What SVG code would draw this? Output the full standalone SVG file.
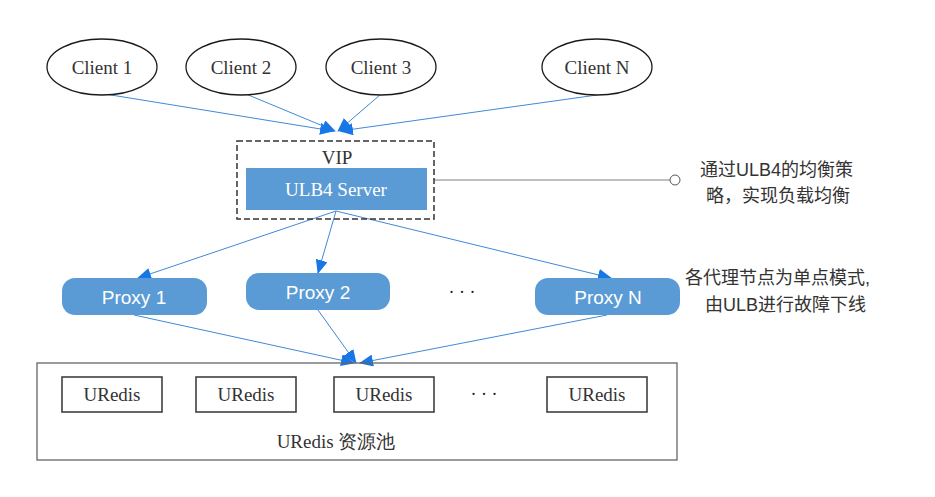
<svg xmlns="http://www.w3.org/2000/svg" width="935" height="497" viewBox="0 0 935 497">
<defs>
<style>
.client{fill:#fff;stroke:#1a1a1a;stroke-width:1.3}
.serif{font-family:"Liberation Serif","Times New Roman",serif;font-size:19px;fill:#333;text-anchor:middle}
.sans{font-family:"Liberation Sans",Arial,sans-serif;font-size:19px;fill:#fff;text-anchor:middle}
.cjk{font-family:"Liberation Sans","Noto Sans CJK SC",sans-serif;font-size:18px;fill:#333}
.proxy{fill:#5b9bd5}
.conn{stroke:#3f8ad8;stroke-width:1;fill:none;marker-end:url(#ah)}
.ured{fill:#fff;stroke:#404040;stroke-width:1.6}
</style>
<marker id="ah" markerUnits="userSpaceOnUse" markerWidth="14" markerHeight="12" refX="13" refY="6" orient="auto">
<path d="M0,0 L14,6 L0,12 Z" fill="#1877e6"/>
</marker>
</defs>
<rect width="935" height="497" fill="#fff"/>

<g id="connectors">
<line class="conn" x1="105" y1="94" x2="333" y2="131"/>
<line class="conn" x1="246" y1="94" x2="335" y2="131"/>
<line class="conn" x1="380" y1="95" x2="338" y2="131"/>
<line class="conn" x1="597" y1="95" x2="340" y2="131"/>
<line class="conn" x1="336" y1="211" x2="138" y2="278"/>
<line class="conn" x1="336" y1="211" x2="318" y2="273"/>
<line class="conn" x1="336" y1="211" x2="611" y2="278"/>
<line class="conn" x1="134" y1="315" x2="354" y2="363"/>
<line class="conn" x1="318" y1="310" x2="356" y2="363"/>
<line class="conn" x1="607" y1="315" x2="360" y2="363"/>
<line x1="434" y1="180" x2="670" y2="180" stroke="#808080" stroke-width="1.2"/>
<circle cx="675" cy="180" r="5" fill="#fff" stroke="#555" stroke-width="1"/>
</g>

<g id="client1"><ellipse class="client" cx="102" cy="67" rx="55" ry="28"/><text class="serif" x="102" y="74">Client 1</text></g>
<g id="client2"><ellipse class="client" cx="241" cy="67" rx="55" ry="28"/><text class="serif" x="241" y="74">Client 2</text></g>
<g id="client3"><ellipse class="client" cx="381" cy="67" rx="55" ry="28"/><text class="serif" x="381" y="74">Client 3</text></g>
<g id="clientN"><ellipse class="client" cx="597" cy="67" rx="55" ry="28"/><text class="serif" x="597" y="74">Client N</text></g>

<g id="vip">
<rect x="237" y="141" width="197" height="78" fill="none" stroke="#333" stroke-width="1.5" stroke-dasharray="6,3"/>
<text class="serif" x="337" y="164">VIP</text>
<rect x="246" y="168" width="181" height="42" fill="#5b9bd5"/>
<text class="serif" x="336" y="196" style="fill:#fff">ULB4 Server</text>
</g>

<g id="note1">
<text class="cjk" x="700" y="176">通过ULB4的均衡策</text>
<text class="cjk" x="706" y="202">略，实现负载均衡</text>
</g>

<g id="proxy1"><rect class="proxy" x="62" y="278" width="145" height="37" rx="13"/><text class="sans" x="134" y="304">Proxy 1</text></g>
<g id="proxy2"><rect class="proxy" x="246" y="273" width="144" height="37" rx="13"/><text class="sans" x="318" y="299">Proxy 2</text></g>
<g id="dots1"><text class="serif" x="462" y="298" style="fill:#222;font-size:18px">· · ·</text></g>
<g id="proxyN"><rect class="proxy" x="535" y="278" width="145" height="37" rx="13"/><text class="sans" x="608" y="304">Proxy N</text></g>

<g id="note2">
<text class="cjk" x="685" y="284">各代理节点为单点模式,</text>
<text class="cjk" x="705" y="311">由ULB进行故障下线</text>
</g>

<g id="pool">
<rect x="37" y="363" width="640" height="97" fill="none" stroke="#666" stroke-width="1.3"/>
<text class="serif" x="336" y="448">URedis 资源池</text>
</g>
<g id="uredis1"><rect class="ured" x="62" y="377" width="100" height="35"/><text class="serif" x="112" y="401">URedis</text></g>
<g id="uredis2"><rect class="ured" x="196" y="377" width="100" height="35"/><text class="serif" x="246" y="401">URedis</text></g>
<g id="uredis3"><rect class="ured" x="334" y="377" width="100" height="35"/><text class="serif" x="384" y="401">URedis</text></g>
<g id="dots2"><text class="serif" x="484" y="400" style="fill:#222;font-size:18px">· · ·</text></g>
<g id="uredisN"><rect class="ured" x="547" y="377" width="100" height="35"/><text class="serif" x="597" y="401">URedis</text></g>
</svg>
